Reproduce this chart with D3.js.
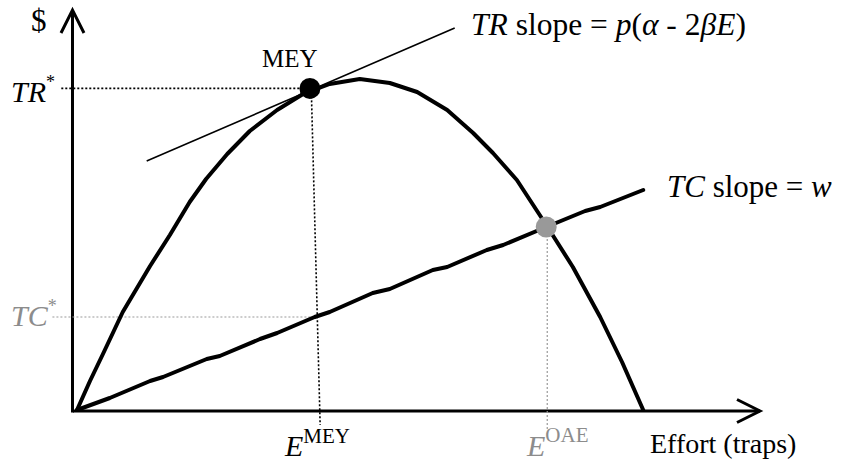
<!DOCTYPE html>
<html>
<head>
<meta charset="utf-8">
<script src="https://cdn.jsdelivr.net/npm/d3@7/dist/d3.min.js"></script>
<style>
  html, body { margin: 0; padding: 0; background: #fff; }
  svg { display: block; }
  text { font-family: "Liberation Serif", "Times New Roman", serif; }
</style>
</head>
<body>
<svg id="chart" width="841" height="463"></svg>
<script>
// ---- Data (effort units 0-100, dollar units 0-100) ----
const trEffort = [0, 1.9, 3.8, 6.7, 10.7, 13.6, 16.5, 18.9, 22.0, 25.3, 29.3, 33.1, 37.0, 41.4, 45.8, 49.8, 54.2, 58.0, 60.9, 64.4, 68.8, 72.6, 76.6, 79.8, 82.9];
const trValue  = [0, 7.25, 14, 24.5, 36, 43.75, 52, 57.75, 64, 69.75, 75, 79, 81.5, 82.75, 81.75, 79.5, 75, 69.25, 64.25, 57.5, 46, 35.75, 23.25, 12, 0];

const tcEffort = [0, 4.8, 10.7, 12.6, 19.0, 20.9, 26.8, 29.3, 34.8, 37.0, 43.3, 45.8, 52.1, 54.2, 60.0, 62.4, 68.7, 74.4, 76.6, 82.9];
const tcValue  = [0, 3, 7.25, 8.25, 12.75, 13.5, 17.75, 19.25, 23.25, 24.5, 29.25, 30.25, 35, 35.75, 40, 41.25, 45.75, 49.75, 50.75, 55];

const tangentEffort = [10.2, 55.3];
const tangentValue  = [62.25, 95.5];

const mey = { effort: 34.1, value: 80.4, axisEffort: 35.6 };
const oae = { effort: 68.7, value: 45.75 };
const tcStar = 23.25;

const labels = {
  yAxis: "$",
  xAxis: "Effort (traps)",
  mey: "MEY"
};

// ---- Scales ----
const svg = d3.select("#chart");
const x = d3.scaleLinear().domain([0, 100]).range([77, 760]);
const y = d3.scaleLinear().domain([0, 100]).range([410, 10]);

const GRAY = "#999999";
const GRAYTXT = "#8c8c8c";

// ---- Axes (no ticks) ----
const xAxis = d3.axisBottom(x).tickValues([]).tickSizeOuter(0);
const gx = svg.append("g").attr("transform", `translate(0,${y(0) + 1})`).call(xAxis);
gx.select(".domain").attr("stroke", "#000").attr("stroke-width", 3)
  .attr("d", `M${x(-0.6)},0H${x(100)}`);

const yAxis = d3.axisLeft(y).tickValues([]).tickSizeOuter(0);
const gy = svg.append("g").attr("transform", `translate(${x(-0.66)},0)`).call(yAxis);
gy.select(".domain").attr("stroke", "#000").attr("stroke-width", 3)
  .attr("d", `M0,${y(0) + 2.5}V${y(100)}`);

// arrowheads
svg.append("path")
  .attr("d", `M${x(-0.66) - 11.5},${y(100) + 23}L${x(-0.66)},${y(100)}L${x(-0.66) + 11.5},${y(100) + 23}`)
  .attr("fill", "none").attr("stroke", "#000").attr("stroke-width", 3);
svg.append("path")
  .attr("d", `M${x(100) - 23},${y(0) + 1 - 11.5}L${x(100)},${y(0) + 1}L${x(100) - 23},${y(0) + 1 + 11.5}`)
  .attr("fill", "none").attr("stroke", "#000").attr("stroke-width", 3);

// ---- Dotted guide lines ----
svg.append("line")
  .attr("x1", x(-2.3)).attr("y1", y(mey.value)).attr("x2", x(mey.effort)).attr("y2", y(mey.value))
  .attr("stroke", "#000").attr("stroke-width", 1.6).attr("stroke-dasharray", "2,2");
svg.append("line")
  .attr("x1", x(mey.effort + 0.2)).attr("y1", y(mey.value)).attr("x2", x(mey.axisEffort)).attr("y2", y(-3.75))
  .attr("stroke", "#000").attr("stroke-width", 1.6).attr("stroke-dasharray", "2,2");
svg.append("line")
  .attr("x1", x(-3.6)).attr("y1", y(tcStar)).attr("x2", x(35)).attr("y2", y(tcStar))
  .attr("stroke", GRAY).attr("stroke-width", 1.2).attr("stroke-dasharray", "2,2");
svg.append("line")
  .attr("x1", x(oae.effort + 0.15)).attr("y1", y(oae.value)).attr("x2", x(oae.effort + 0.15)).attr("y2", y(-5))
  .attr("stroke", GRAY).attr("stroke-width", 1.2).attr("stroke-dasharray", "2,2");

// ---- Curves ----
const line = d3.line().x(d => x(d[0])).y(d => y(d[1])).curve(d3.curveLinear);

svg.append("path")
  .datum(d3.zip(tangentEffort, tangentValue))
  .attr("d", line).attr("fill", "none").attr("stroke", "#000").attr("stroke-width", 1.6);

svg.append("path")
  .datum(d3.zip(trEffort, trValue))
  .attr("d", line).attr("fill", "none").attr("stroke", "#000")
  .attr("stroke-width", 4).attr("stroke-linejoin", "round").attr("stroke-linecap", "round");

svg.append("path")
  .datum(d3.zip(tcEffort, tcValue))
  .attr("d", line).attr("fill", "none").attr("stroke", "#000")
  .attr("stroke-width", 4).attr("stroke-linejoin", "round").attr("stroke-linecap", "round");

// ---- Points ----
svg.append("circle").attr("cx", x(mey.effort)).attr("cy", y(mey.value)).attr("r", 10.5).attr("fill", "#000");
svg.append("circle").attr("cx", x(oae.effort)).attr("cy", y(oae.value)).attr("r", 10.5).attr("fill", GRAY);

// ---- Text ----
function addText(xp, yp, parts, size, color) {
  const t = svg.append("text").attr("x", xp).attr("y", yp)
    .attr("font-size", size).attr("fill", color || "#000");
  parts.forEach(p => {
    const s = t.append("tspan").text(p.t);
    if (p.i) s.attr("font-style", "italic");
    if (p.size) s.attr("font-size", p.size);
    if (p.dy) s.attr("dy", p.dy);
  });
  return t;
}

addText(31, 31, [{ t: labels.yAxis }], 31);
addText(11, 102, [{ t: "TR", i: true }, { t: "*", size: 18, dy: -14 }], 30);
addText(11, 326, [{ t: "TC", i: true }, { t: "*", size: 18, dy: -14 }], 30, GRAYTXT);
addText(262, 67, [{ t: labels.mey }], 25);
addText(471, 35, [
  { t: "TR", i: true }, { t: " slope = " }, { t: "p", i: true }, { t: "(" },
  { t: "α", i: true }, { t: " - 2" }, { t: "β", i: true }, { t: "E", i: true }, { t: ")" }
], 31.5);
addText(667, 197, [{ t: "TC", i: true }, { t: " slope = " }, { t: "w", i: true }], 31);
addText(285, 456, [{ t: "E", i: true }, { t: "MEY", size: 21, dy: -13 }], 30);
addText(527, 456, [{ t: "E", i: true }, { t: "OAE", size: 21, dy: -14 }], 30, GRAYTXT);
addText(650, 453, [{ t: labels.xAxis }], 28);
</script>
</body>
</html>
